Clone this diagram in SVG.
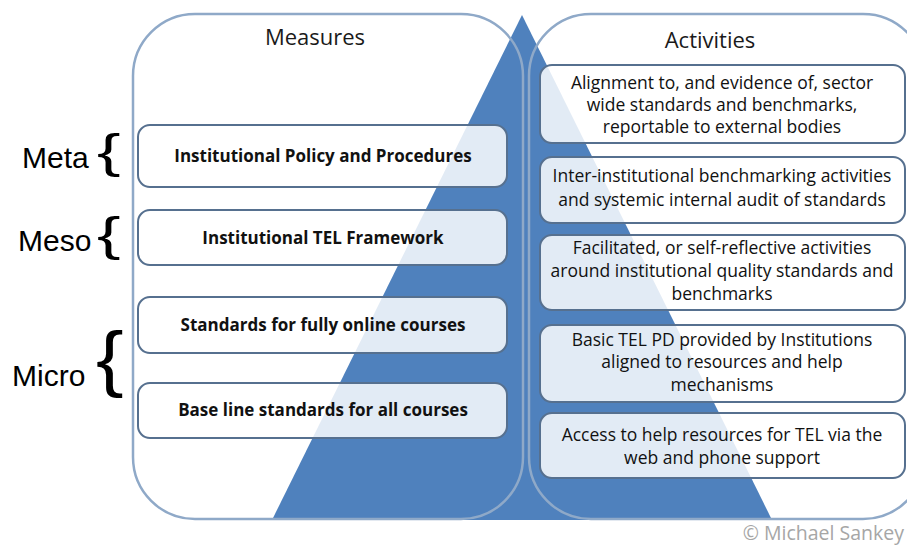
<svg xmlns="http://www.w3.org/2000/svg" width="907" height="547" viewBox="0 0 907 547">
<style>
.panel{fill:none;stroke:#8fa9c8;stroke-width:2.5}
.box{fill:#ffffff;fill-opacity:0.84;stroke:#56708f;stroke-width:2}
.lt{font-family:"Open Sans","Liberation Sans",sans-serif;font-size:17px;font-weight:bold;fill:#111;text-anchor:middle}
.rt{font-family:"Open Sans","Liberation Sans",sans-serif;font-size:17.5px;fill:#111;text-anchor:middle}
.hd{font-family:"Open Sans","Liberation Sans",sans-serif;font-size:22px;fill:#1a1a1a;text-anchor:middle}
.lvl{font-family:"Liberation Sans",Arial,sans-serif;font-size:30px;fill:#000}
.br{font-family:"Liberation Sans",Arial,sans-serif;fill:#000}
</style>
<rect width="907" height="547" fill="#ffffff"/>
<g id="pyramid">
<polygon points="522,15 272,520 772,520" fill="#4f81bd"/>
</g>
<g id="panels">
<rect class="panel" x="133" y="14" width="390" height="505" rx="62"/>
<rect class="panel" x="529" y="14" width="396" height="505" rx="62"/>
</g>
<g id="headers">
<text class="hd" x="315" y="45">Measures</text>
<text class="hd" x="710" y="48">Activities</text>
</g>
<g id="levels">
<text class="lvl" x="22" y="168">Meta</text>
<text class="br" font-size="47" transform="translate(97,167) scale(1.5,1)">{</text>
<text class="lvl" x="18" y="251">Meso</text>
<text class="br" font-size="47" transform="translate(97,250) scale(1.5,1)">{</text>
<text class="lvl" x="12" y="386">Micro</text>
<text class="br" font-size="72" transform="translate(96,383) scale(1.15,1)">{</text>
</g>
<g id="m1"><rect class="box" x="138" y="125" width="369" height="62" rx="12"/><text class="lt" x="323" y="162">Institutional Policy and Procedures</text></g>
<g id="m2"><rect class="box" x="138" y="210" width="369" height="55" rx="12"/><text class="lt" x="323" y="244">Institutional TEL Framework</text></g>
<g id="m3"><rect class="box" x="138" y="297" width="369" height="56" rx="12"/><text class="lt" x="323" y="331">Standards for fully online courses</text></g>
<g id="m4"><rect class="box" x="138" y="383" width="369" height="55" rx="12"/><text class="lt" x="323" y="416">Base line standards for all courses</text></g>
<g id="a1"><rect class="box" x="540" y="65" width="365" height="78" rx="12"/>
<text class="rt" x="722" y="89">Alignment to, and evidence of, sector</text>
<text class="rt" x="722" y="111">wide standards and benchmarks,</text>
<text class="rt" x="722" y="133">reportable to external bodies</text></g>
<g id="a2"><rect class="box" x="540" y="157" width="365" height="66" rx="12"/>
<text class="rt" x="722" y="182">Inter-institutional benchmarking activities</text>
<text class="rt" x="722" y="206">and systemic internal audit of standards</text></g>
<g id="a3"><rect class="box" x="540" y="235" width="365" height="75" rx="12"/>
<text class="rt" x="722" y="254">Facilitated, or self-reflective activities</text>
<text class="rt" x="722" y="277">around institutional quality standards and</text>
<text class="rt" x="722" y="300">benchmarks</text></g>
<g id="a4"><rect class="box" x="540" y="325" width="365" height="77" rx="12"/>
<text class="rt" x="722" y="346">Basic TEL PD provided by Institutions</text>
<text class="rt" x="722" y="368">aligned to resources and help</text>
<text class="rt" x="722" y="391">mechanisms</text></g>
<g id="a5"><rect class="box" x="540" y="413" width="365" height="65" rx="12"/>
<text class="rt" x="722" y="441">Access to help resources for TEL via the</text>
<text class="rt" x="722" y="464">web and phone support</text></g>
<g id="connectors"></g>
<text x="904" y="540" font-family="'Open Sans','Liberation Sans',sans-serif" font-size="19.5px" fill="#a6a6a6" text-anchor="end">© Michael Sankey</text>
</svg>
